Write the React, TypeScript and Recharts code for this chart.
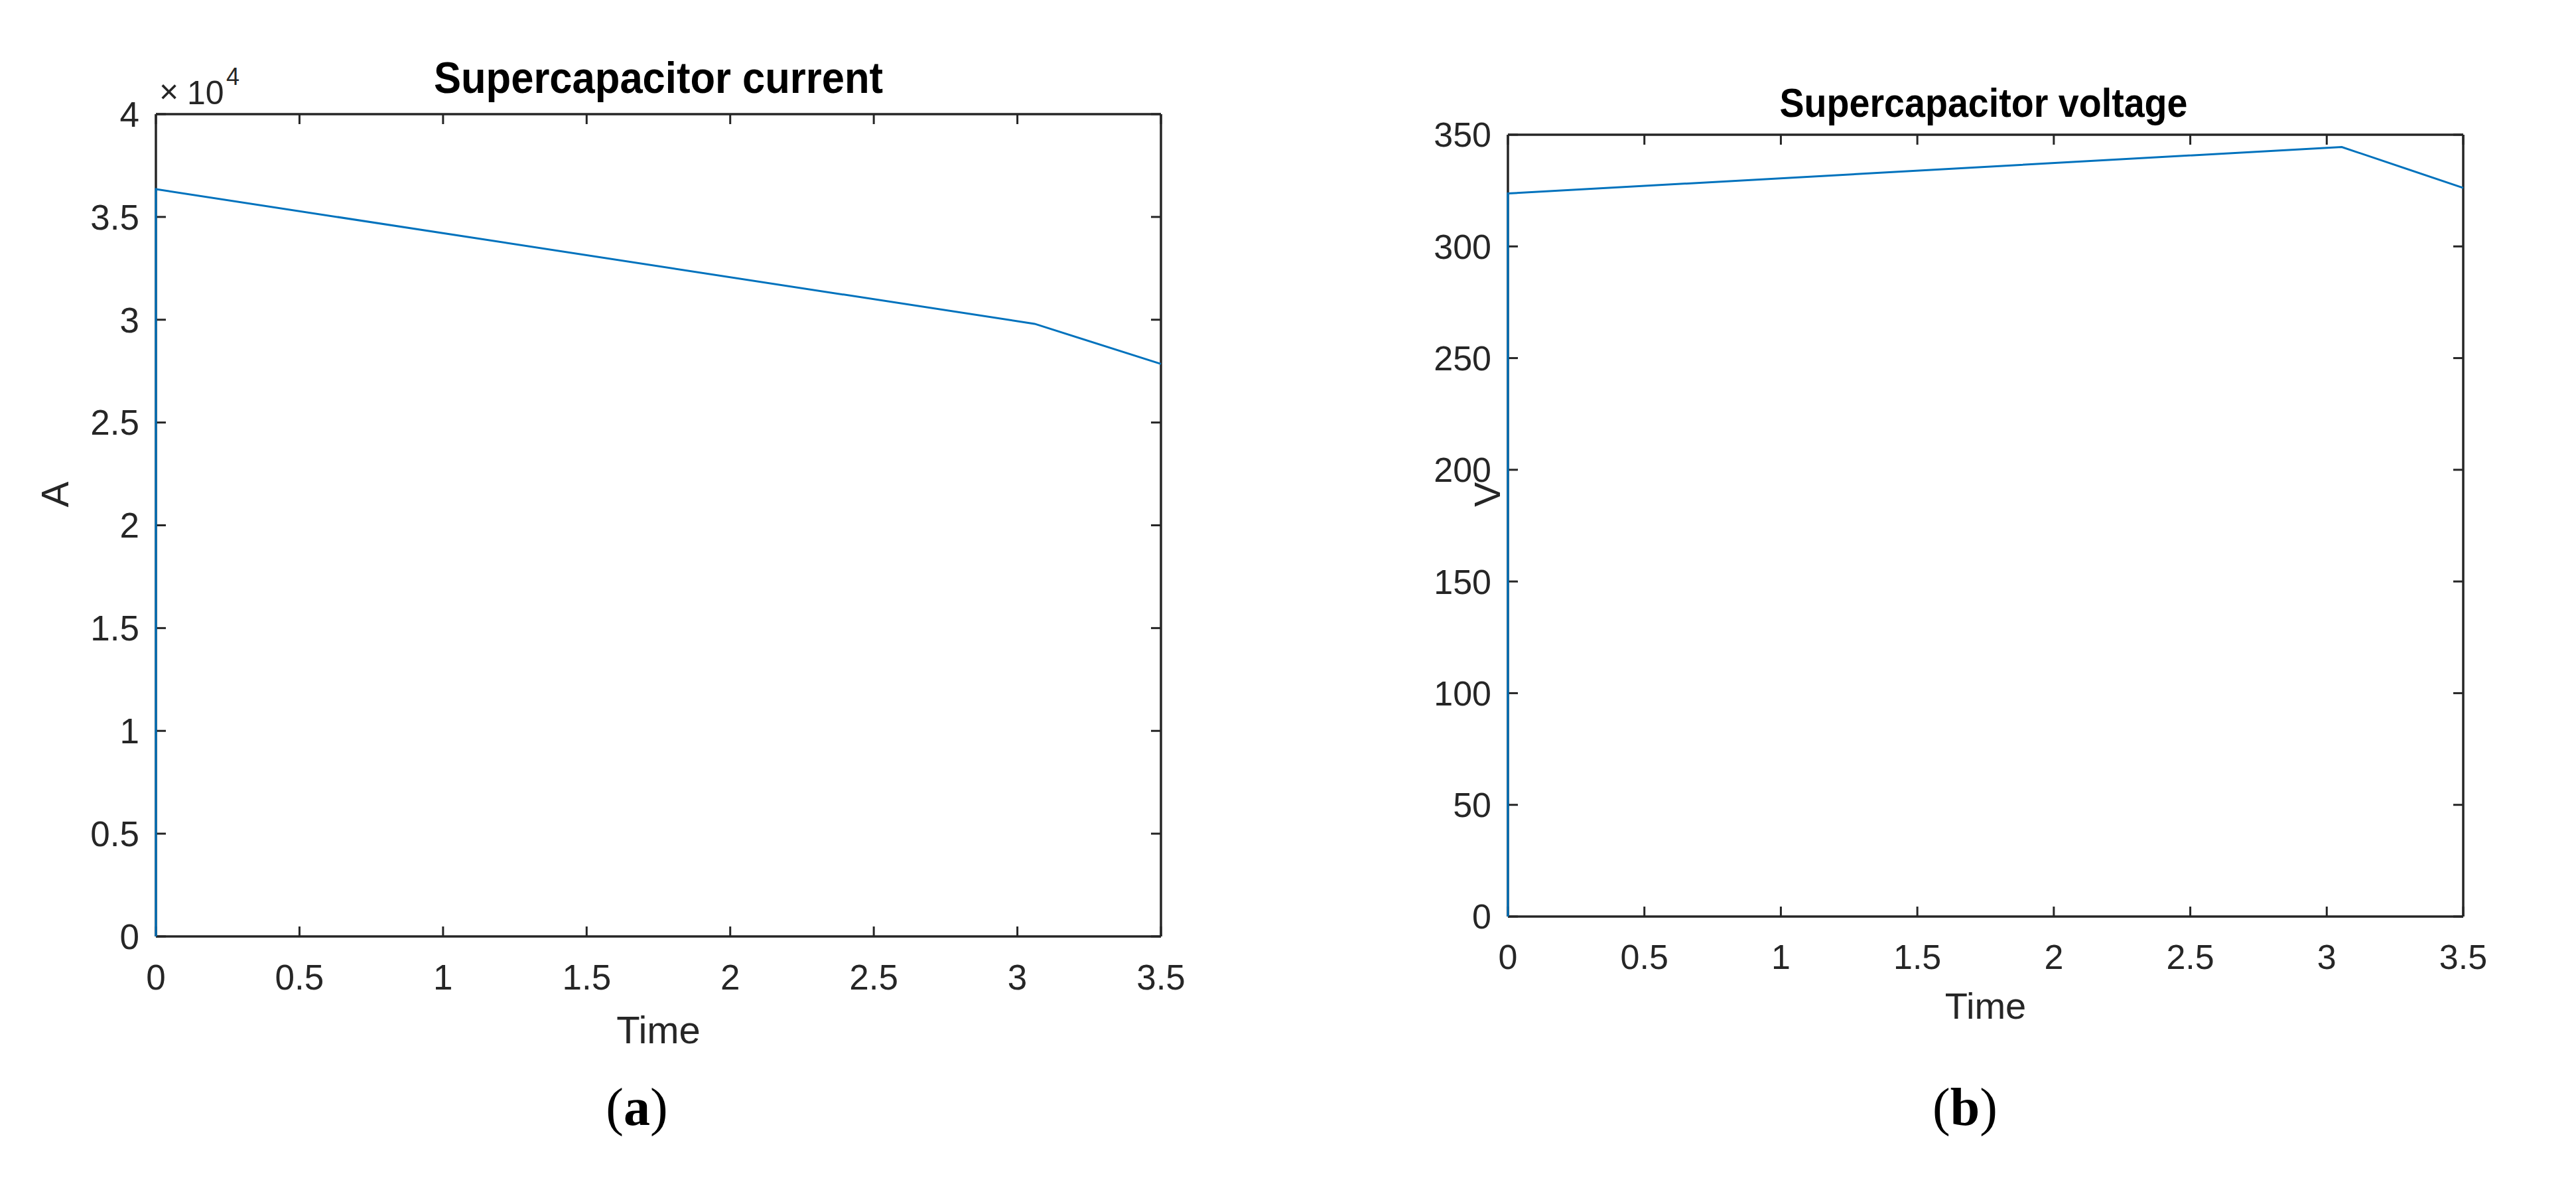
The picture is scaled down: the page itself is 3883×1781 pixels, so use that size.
import React from 'react';
import { LineChart, Line, XAxis, YAxis } from 'recharts';

const timeTicks = [0, 0.5, 1, 1.5, 2, 2.5, 3, 3.5];
const currentTicks = [0, 5000, 10000, 15000, 20000, 25000, 30000, 35000, 40000];
const voltageTicks = [0, 50, 100, 150, 200, 250, 300, 350];

const currentTime = [0, 0, 3.06, 3.5];
const currentValues = [0, 36350, 29800, 27850];
const voltageTime = [0, 0, 3.055, 3.5];
const voltageValues = [0, 323.7, 344.5, 326.2];

const currentData = currentTime.map((t, i) => ({ t, v: currentValues[i] }));
const voltageData = voltageTime.map((t, i) => ({ t, v: voltageValues[i] }));

const FONT = '"Liberation Sans", Arial, Helvetica, sans-serif';
const AX = '#262626';
const LINE = '#0072BD';
const TICK_LEN = 15;

type Box = { top: number; bottom: number; left: number; right: number };

type PanelProps = {
  data: { t: number; v: number }[];
  yMax: number;
  yTicks: number[];
  yFmt: (v: number) => string;
  width: number;
  height: number;
  box: Box;
  fontSize: number;
};

function Panel({ data, yMax, yTicks, yFmt, width, height, box, fontSize }: PanelProps) {
  const xc = { type: 'number' as const, domain: [0, 3.5], ticks: timeTicks, interval: 0 as const };
  const yc = { type: 'number' as const, domain: [0, yMax], ticks: yTicks, interval: 0 as const };
  const lineStyle = { stroke: AX, strokeWidth: 3.5 };
  const xAxisH = 100;
  const yAxisW = 150;
  const margin = {
    top: box.top,
    left: box.left - yAxisW,
    right: width - box.right,
    bottom: height - box.bottom - xAxisH,
  };
  const overlayMargin = {
    top: box.top,
    left: box.left,
    right: width - box.right,
    bottom: height - box.bottom,
  };

  const XTick = (props: any) => {
    const { x, y, payload } = props;
    return (
      <g>
        <line x1={x} x2={x} y1={box.bottom} y2={box.bottom - TICK_LEN} stroke={AX} strokeWidth={3} />
        <line x1={x} x2={x} y1={box.top} y2={box.top + TICK_LEN} stroke={AX} strokeWidth={3} />
        <text x={x} y={y} dy="0.71em" textAnchor="middle" fontSize={fontSize} fill={AX} fontFamily={FONT}>
          {String(payload.value)}
        </text>
      </g>
    );
  };

  const YTick = (props: any) => {
    const { x, y, payload } = props;
    return (
      <g>
        <line x1={box.left} x2={box.left + TICK_LEN} y1={y} y2={y} stroke={AX} strokeWidth={3} />
        <line x1={box.right} x2={box.right - TICK_LEN} y1={y} y2={y} stroke={AX} strokeWidth={3} />
        <text x={x} y={y} dy="0.355em" textAnchor="end" fontSize={fontSize} fill={AX} fontFamily={FONT}>
          {yFmt(payload.value)}
        </text>
      </g>
    );
  };

  return (
    <div style={{ position: 'relative', width, height }}>
      <div style={{ position: 'absolute', left: 0, top: 0 }}>
        <LineChart width={width} height={height} data={data} margin={margin}>
          <XAxis
            xAxisId="x"
            dataKey="t"
            {...xc}
            orientation="bottom"
            height={xAxisH}
            axisLine={lineStyle}
            tickLine={false}
            tickSize={0}
            tickMargin={42}
            tick={XTick}
          />
          <XAxis xAxisId="xt" dataKey="t" {...xc} orientation="top" mirror axisLine={lineStyle} tick={false} tickLine={false} />
          <YAxis
            yAxisId="y"
            dataKey="v"
            {...yc}
            orientation="left"
            width={yAxisW}
            axisLine={lineStyle}
            tickLine={false}
            tickSize={0}
            tickMargin={25}
            tick={YTick}
          />
          <YAxis yAxisId="yr" dataKey="v" {...yc} orientation="right" mirror axisLine={lineStyle} tick={false} tickLine={false} />
          <Line
            xAxisId="x"
            yAxisId="y"
            type="linear"
            dataKey="v"
            stroke={LINE}
            strokeOpacity={0}
            strokeWidth={3}
            dot={false}
            activeDot={false}
            isAnimationActive={false}
          />
        </LineChart>
      </div>
      <div style={{ position: 'absolute', left: 0, top: 0 }}>
        <LineChart width={width} height={height} data={data} margin={overlayMargin}>
          <XAxis xAxisId="x" dataKey="t" type="number" domain={[0, 3.5]} hide />
          <YAxis yAxisId="y" dataKey="v" type="number" domain={[0, yMax]} hide />
          <Line
            xAxisId="x"
            yAxisId="y"
            type="linear"
            dataKey="v"
            stroke={LINE}
            strokeWidth={3}
            dot={false}
            activeDot={false}
            isAnimationActive={false}
          />
        </LineChart>
      </div>
    </div>
  );
}

export default function App() {
  return (
    <div style={{ position: 'absolute', left: 0, top: 0, width: 3883, height: 1781, background: '#fff', overflow: 'hidden' }}>
      <div style={{ position: 'absolute', left: 0, top: 0 }}>
        <Panel
          data={currentData}
          yMax={40000}
          yTicks={currentTicks}
          yFmt={(v) => String(v / 10000)}
          width={1900}
          height={1781}
          box={{ top: 172, bottom: 1411, left: 235, right: 1750 }}
          fontSize={53}
        />
      </div>
      <div style={{ position: 'absolute', left: 1950, top: 0 }}>
        <Panel
          data={voltageData}
          yMax={350}
          yTicks={voltageTicks}
          yFmt={(v) => String(v)}
          width={1933}
          height={1781}
          box={{ top: 203, bottom: 1381, left: 323, right: 1763 }}
          fontSize={52}
        />
      </div>
      <svg width={3883} height={1781} style={{ position: 'absolute', left: 0, top: 0, pointerEvents: 'none' }}>
        <g fontFamily={FONT} fill="#000">
          <text x={992.5} y={140} textAnchor="middle" fontWeight="bold" fontSize={66} textLength={677} lengthAdjust="spacingAndGlyphs">
            Supercapacitor current
          </text>
          <text x={2990} y={176} textAnchor="middle" fontWeight="bold" fontSize={62} textLength={615} lengthAdjust="spacingAndGlyphs">
            Supercapacitor voltage
          </text>
        </g>
        <g fontFamily={FONT} fill={AX}>
          <text x={240} y={155} fontSize={50}>×</text>
          <text x={282} y={157} fontSize={50}>10</text>
          <text x={341} y={128} fontSize={36}>4</text>
          <text x={82} y={745} fontSize={58} textAnchor="middle" dy="0.36em" transform="rotate(-90 82 745)">A</text>
          <text x={2241} y={745} fontSize={56} textAnchor="middle" dy="0.36em" transform="rotate(-90 2241 745)">V</text>
          <text x={992.5} y={1572} fontSize={58} textAnchor="middle">Time</text>
          <text x={2993} y={1535} fontSize={56} textAnchor="middle">Time</text>
        </g>
        <g fontFamily='"Liberation Serif", "Times New Roman", serif' fill="#000" fontSize={80}>
          <text x={960} y={1695} textAnchor="middle">(<tspan fontWeight="bold">a</tspan>)</text>
          <text x={2962} y={1695} textAnchor="middle">(<tspan fontWeight="bold">b</tspan>)</text>
        </g>
      </svg>
    </div>
  );
}
